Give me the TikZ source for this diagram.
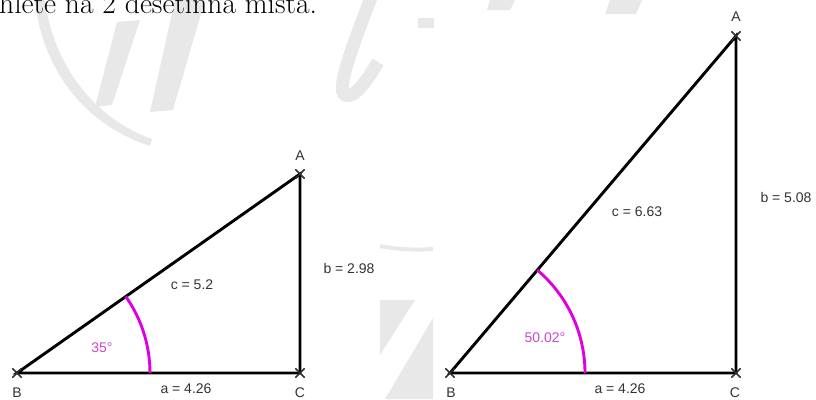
\documentclass[tikz,border=0pt]{standalone}
\usepackage{fontspec}
\newfontfamily\lab{Liberation Sans}
\usetikzlibrary{shapes.misc}
\definecolor{wm}{gray}{0.91}
\definecolor{mag}{RGB}{222,0,222}
\definecolor{maglab}{RGB}{205,70,205}
\definecolor{labc}{gray}{0.2}
\begin{document}
\begin{tikzpicture}[x=1pt,y=-1pt,
  vx/.style={cross out,draw=black!80,line width=1.1pt,minimum size=8pt,inner sep=0pt},
  side/.style={line width=2.9pt,black},
  angarc/.style={line width=2.9pt,mag},
  lbl/.style={font=\lab\fontsize{14}{16}\selectfont,text=labc,inner sep=0pt},
  anglbl/.style={font=\lab\fontsize{14}{16}\selectfont,text=maglab,inner sep=0pt},
  wmk/.style={fill=wm,draw=none}]
\useasboundingbox (0,0) rectangle (816,399);
\clip (0,0) rectangle (816,399);
% watermark
\fill[wmk] (35,0) .. controls (42,70) and (85,125) .. (150,146) -- (152,139) .. controls (95,119) and (53,65) .. (45,0) -- cycle;
\fill[wmk] (117,22) -- (140,20) -- (112,105) -- (95,107) -- cycle;
\fill[wmk] (175,0) -- (205,0) -- (173,110) -- (150,112) -- cycle;
\draw[wm,line width=13pt] (372,-5) .. controls (355,40) and (335,90) .. (345,95) .. controls (355,100) and (370,75) .. (378,62);
\fill[wmk] (418,18) rectangle (434,28);
\draw[wm,line width=4pt] (380,246) .. controls (400,250) and (420,250) .. (433,249);
\fill[wmk] (380,300) -- (415,300) -- (380,355) -- cycle;
\fill[wmk] (433,318) -- (433,399) -- (385,399) -- cycle;
\fill[wmk] (490,0) -- (515,0) -- (510,10) -- (487,10) -- cycle;
\fill[wmk] (610,0) -- (642,0) -- (636,14) -- (605,14) -- cycle;
% title fragment
\node[anchor=base west,inner sep=0pt,font=\fontsize{29.5}{33}\selectfont] (title) at (-1,13) {hlete na 2 desetinná místa.};
% left triangle
\node[vx] (B1) at (17,373) {};
\node[vx] (C1) at (300,373) {};
\node[vx] (A1) at (300,174) {};
\draw[side] (B1.center) -- (C1.center) -- (A1.center) -- cycle;
\draw[angarc] (B1.center) ++(133pt,0pt) arc[start angle=0,end angle=35.1,radius=133pt];
\node[vx] at (B1) {};\node[vx] at (C1) {};\node[vx] at (A1) {};
\node[lbl] (lA1) at (300,156) {A};
\node[lbl] (lB1) at (17,393) {B};
\node[lbl] (lC1) at (300,393) {C};
\node[lbl] (la1) at (186,389) {a = 4.26};
\node[lbl] (lc1) at (192,285) {c = 5.2};
\node[lbl] (lb1) at (349,268) {b = 2.98};
\node[anglbl] (ang1) at (102,348) {35°};
% right triangle
\node[vx] (B2) at (450,373) {};
\node[vx] (C2) at (736,373) {};
\node[vx] (A2) at (736,36) {};
\draw[side] (B2.center) -- (C2.center) -- (A2.center) -- cycle;
\draw[angarc] (B2.center) ++(135pt,0pt) arc[start angle=0,end angle=49.7,radius=135pt];
\node[vx] at (B2) {};\node[vx] at (C2) {};\node[vx] at (A2) {};
\node[lbl] (lA2) at (736,17) {A};
\node[lbl] (lB2) at (451,393) {B};
\node[lbl] (lC2) at (735,393) {C};
\node[lbl] (la2) at (620,389) {a = 4.26};
\node[lbl] (lc2) at (637,212) {c = 6.63};
\node[lbl] (lb2) at (786,197) {b = 5.08};
\node[anglbl] (ang2) at (545,338) {50.02°};
\end{tikzpicture}
\end{document}
